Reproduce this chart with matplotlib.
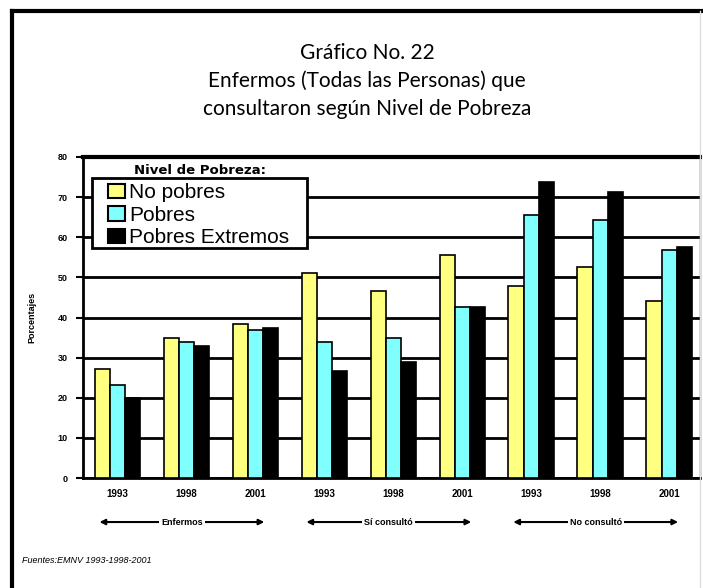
import matplotlib.pyplot as plt
import matplotlib.transforms as mtransforms
from matplotlib.lines import Line2D
from matplotlib.patches import Patch, Rectangle
import numpy as np

years = ["1993", "1998", "2001"] * 3
groups = ["Enfermos", "Sí consultó", "No consultó"]
series = ["No pobres", "Pobres", "Pobres Extremos"]
no_pobres = [27.1, 34.8, 38.5, 51.2, 46.7, 55.7, 47.9, 52.7, 44.0]
pobres = [23.3, 34.0, 36.8, 33.8, 35.0, 42.5, 65.6, 64.3, 56.9]
extremos = [19.9, 32.8, 37.3, 26.6, 28.8, 42.7, 73.8, 71.3, 57.6]
colors = ["#ffff80", "#80ffff", "#000000"]

fig = plt.figure(figsize=(7.03, 5.88), dpi=100)
ax = fig.add_axes([0.118, 0.187, 0.878, 0.546])

x = np.arange(len(years))
w = 0.22
for k, vals in enumerate([no_pobres, pobres, extremos]):
    ax.bar(x + (k - 1) * w, vals, w, color=colors[k], edgecolor="black",
           linewidth=1.2, zorder=3, label=series[k])

ax.set_ylim(0, 80)
ax.set_xlim(-0.5, 8.45)
ax.set_yticks(range(0, 81, 10))
ax.yaxis.grid(True, color="black", linewidth=2, zorder=0)
ax.set_axisbelow(True)
ax.spines["right"].set_linewidth(1.0)
ax.spines["right"].set_color("#444444")
ax.spines["top"].set_linewidth(3)
ax.spines["left"].set_linewidth(2)
ax.spines["bottom"].set_linewidth(2)
ax.tick_params(axis="y", length=5, width=1.5, labelsize=6.5, pad=6)
ax.tick_params(axis="x", length=0, labelsize=7, pad=8)
ax.set_xticks(x)
ax.set_xticklabels(years, fontweight="bold", family="Liberation Sans")
for t in ax.get_yticklabels():
    t.set_fontweight("bold")
    t.set_family("Liberation Sans")

ax.set_ylabel("Porcentajes", fontsize=6.5, fontweight="bold", labelpad=15,
              family="Liberation Sans")

# group arrows under the years
trans = mtransforms.blended_transform_factory(ax.transData, ax.transAxes)
for g, name in enumerate(groups):
    x0 = g * 3 - 0.26
    x1 = g * 3 + 2.13
    ax.annotate("", xy=(x1, -0.137), xytext=(x0, -0.137), xycoords=trans,
                textcoords=trans,
                arrowprops=dict(arrowstyle="<|-|>", color="black", lw=1.5,
                                mutation_scale=8, shrinkA=0, shrinkB=0),
                annotation_clip=False)
    ax.text((x0 + x1) / 2, -0.137, name, transform=trans, ha="center",
            va="center", fontsize=6.5, fontweight="bold",
            family="Liberation Sans",
            bbox=dict(facecolor="white", edgecolor="none", pad=1.5))

# legend box drawn separately so the padding matches the original
ax.add_patch(Rectangle((0.0146, 0.7165), 0.348, 0.218, transform=ax.transAxes,
                       facecolor="white", edgecolor="black", linewidth=2,
                       zorder=5))
handles = [Patch(facecolor=c, edgecolor="black", linewidth=1.5) for c in colors]
leg = ax.legend(handles, series, loc="upper left", bbox_to_anchor=(0.0405, 0.918),
                borderaxespad=0, frameon=False,
                prop={"family": "Liberation Sans", "size": 15},
                handlelength=0.8, handleheight=0.7, handletextpad=0.2,
                labelspacing=0.17, borderpad=0.0)
leg.set_zorder(6)
ax.text(0.19, 0.959, "Nivel de Pobreza:", transform=ax.transAxes, ha="center",
        va="center", fontsize=9.5, fontweight="bold", family="DejaVu Sans",
        zorder=6)

fig.text(0.522, 0.91, "Gráfico No. 22", ha="center", va="center", fontsize=15,
         family="Lato")
fig.text(0.522, 0.863, "Enfermos (Todas las Personas) que", ha="center",
         va="center", fontsize=15, family="Lato")
fig.text(0.522, 0.815, "consultaron según Nivel de Pobreza", ha="center",
         va="center", fontsize=15, family="Lato")

fig.text(0.031, 0.047, "Fuentes:EMNV 1993-1998-2001", ha="left", va="center",
         fontsize=6.5, style="italic", family="Liberation Sans")

# page frame
fig.add_artist(Line2D([0.017, 0.017], [0, 0.982], color="black", lw=3,
                      transform=fig.transFigure))
fig.add_artist(Line2D([0.017, 1.0], [0.982, 0.982], color="black", lw=3,
                      transform=fig.transFigure))
fig.add_artist(Line2D([0.996, 0.996], [0, 0.982], color="#dddddd", lw=1,
                      transform=fig.transFigure))

fig.savefig("out.png", dpi=100)
